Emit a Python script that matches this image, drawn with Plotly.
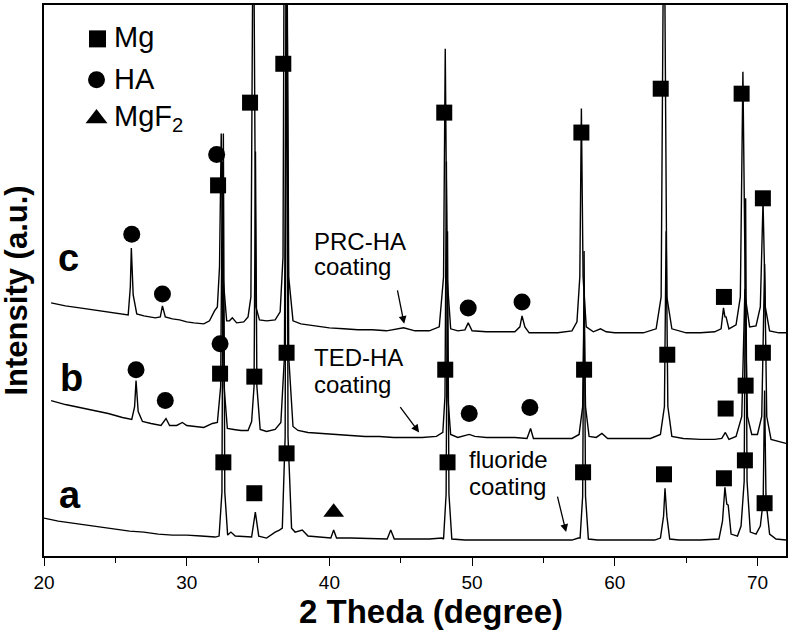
import plotly.graph_objects as go

# ---------------- data (2-theta in degrees, intensity in a.u.) ----------------
a_x = [20.0, 21.0, 22.0, 23.0, 24.0, 25.0, 26.0, 27.0, 28.0, 29.0, 30.0, 31.0, 32.0,
       32.27, 32.47, 32.57, 32.67, 32.87, 33.1, 33.4, 34.2, 34.55, 34.81, 35.05,
       35.6, 36.2, 36.5, 36.7, 36.9, 37.0, 37.1, 37.35, 37.6, 38.1, 38.5, 39.5,
       40.1, 40.3, 40.5, 41.5, 43.0, 44.05, 44.3, 44.55, 45.5, 47.0, 47.9,
       48.0, 48.18, 48.28, 48.38, 48.58, 49.5, 51.0, 52.5, 54.0, 55.5, 57.0, 57.45,
       57.57, 57.75, 57.85, 57.95, 58.15, 58.8, 60.0, 61.5, 62.8, 63.2, 63.42, 63.52,
       63.65, 63.85, 64.5, 66.0, 67.3, 67.55, 67.72, 67.85, 67.95, 68.15, 68.6, 68.85,
       69.07, 69.17, 69.27, 69.5, 69.9, 70.2, 70.4, 70.5, 70.6, 70.85, 71.3, 72.0]
a_y = [38, 35, 33, 31, 29, 27, 25, 24, 22, 21, 21, 20, 19,
       20, 64, 424, 64, 21, 24, 20, 19, 19, 44, 20,
       18, 24, 26, 28, 120, 700, 120, 28, 24, 26, 20, 19,
       18, 26, 18, 18, 17, 17, 26, 17, 17, 17, 18,
       17, 62, 326, 62, 17, 16, 16, 16, 16, 16, 16, 18,
       18, 60, 306, 60, 17, 16, 16, 16, 16, 18, 40, 68,
       40, 17, 16, 16, 17, 35, 69, 52, 51, 22, 20, 30,
       75, 359, 75, 24, 22, 30, 55, 166, 55, 22, 17, 16]

b_x = [20.5, 21.5, 22.5, 23.5, 24.5, 25.5, 26.15, 26.35, 26.45, 26.6, 26.9, 27.5,
       28.2, 28.55, 28.8, 29.3, 29.7, 30.0, 30.5, 31.2, 31.8, 32.15,
       32.38, 32.5, 32.62, 32.85, 33.3, 33.8, 34.3, 34.55, 34.72, 34.82, 34.92, 35.15,
       35.6, 36.2, 36.6, 36.85, 37.0, 37.15, 37.45, 37.8, 38.5, 39.5, 40.5, 41.5,
       42.5, 43.5, 44.5, 45.5, 46.5, 47.5, 47.95, 48.1, 48.2, 48.3, 48.5, 49.0,
       49.8, 50.2, 51.0, 52.0, 53.0, 53.85, 54.1, 54.3, 55.0, 56.0, 57.0, 57.5,
       57.75, 57.85, 57.95, 58.2, 58.7, 59.1, 59.5, 60.5, 61.5, 62.5, 63.2, 63.48,
       63.6, 63.72, 64.0, 64.8, 66.0, 67.0, 67.5, 67.75, 68.0, 68.5, 68.9, 69.12,
       69.3, 69.6, 70.0, 70.3, 70.5, 70.65, 70.95, 71.5, 72.0]
b_y = [156, 152, 149, 146, 143, 139, 137, 150, 176, 145, 135, 133,
       131, 138, 131, 131, 134, 131, 130, 129, 133, 134,
       170, 396, 170, 128, 127, 126, 126, 135, 170, 406, 170, 127,
       125, 127, 134, 200, 700, 200, 130, 126, 124, 123, 122, 121,
       120, 120, 119, 119, 119, 120, 124, 160, 396, 160, 122, 119,
       122, 120, 119, 119, 119, 118, 128, 118, 118, 118, 118, 122,
       150, 246, 150, 120, 119, 123, 118, 118, 118, 118, 122, 150,
       326, 150, 120, 118, 117, 117, 118, 124, 117, 120, 140, 268,
       140, 122, 122, 140, 293, 140, 117, 115, 113]

c_x = [20.5, 21.5, 22.5, 23.5, 24.5, 25.5, 25.9, 26.05, 26.12, 26.25, 26.5, 27.0,
       27.8, 28.15, 28.3, 28.5, 29.0, 29.5, 30.0, 30.5, 31.2, 31.6, 31.95, 32.15,
       32.3, 32.42, 32.55, 32.8, 33.0, 33.2, 33.5, 34.0, 34.3, 34.5, 34.67, 34.85,
       35.1, 35.6, 36.2, 36.55, 36.75, 36.85, 37.0, 37.15, 37.45, 38.0, 39.0, 40.0,
       41.0, 42.0, 43.0, 44.0, 45.2, 46.0, 47.0, 47.7, 48.0, 48.12, 48.25, 48.5,
       49.0, 49.5, 49.73, 50.0, 51.0, 52.0, 53.0, 53.35, 53.5, 53.7, 54.0, 55.0,
       56.0, 57.0, 57.35, 57.55, 57.66, 57.78, 58.0, 58.5, 59.0, 59.4, 60.0, 61.0,
       62.0, 62.9, 63.25, 63.45, 63.65, 64.0, 65.0, 66.0, 67.0, 67.45, 67.62, 67.72,
       67.8, 68.0, 68.5, 68.8, 68.98, 69.15, 69.45, 69.9, 70.2, 70.39, 70.55, 70.85,
       71.5, 72.0]
c_y = [254, 251, 249, 247, 245, 243, 242, 270, 309, 262, 243, 241,
       239, 240, 251, 240, 238, 237, 235, 234, 233, 236, 246, 250,
       290, 424, 280, 236, 236, 239, 234, 235, 240, 260, 700, 250,
       237, 236, 237, 245, 300, 700, 700, 280, 236, 233, 231, 229,
       228, 227, 227, 226, 229, 226, 226, 230, 280, 509, 280, 228,
       226, 227, 234, 226, 225, 225, 225, 230, 241, 230, 224, 224,
       224, 226, 235, 280, 449, 280, 230, 225, 228, 225, 224, 224,
       224, 228, 260, 700, 260, 228, 224, 224, 225, 228, 249, 240,
       240, 228, 232, 260, 486, 260, 230, 231, 250, 356, 250, 226,
       224, 224]

# phase markers
mg_x = [32.57, 34.74, 37.0, 48.28, 57.78, 63.45, 67.65, 69.12, 70.5,
        32.34, 34.74, 37.0, 48.12, 57.85, 63.68, 67.77, 69.17, 70.38,
        32.2, 34.44, 36.77, 48.05, 57.66, 63.22, 67.65, 68.89, 70.38]
mg_y = [94, 63, 103, 94, 84, 82, 78, 96, 53,
        183, 180, 204, 187, 187, 202, 148, 171, 204,
        372, 455, 494, 445, 425, 469, 260, 464, 359]
ha_x = [26.45, 28.5, 32.34, 49.8, 54.05,
        26.15, 28.3, 32.1, 49.73, 53.5]
ha_y = [187, 156, 213, 143, 149,
        323, 263, 403, 249, 255]
mgf2_x = [40.3]
mgf2_y = [44]

tick_vals = [20, 30, 40, 50, 60, 70]
tick_text = ["20", "30", "40", "50", "60", "70"]

# ---------------- figure ----------------
FONT = "Arial, Liberation Sans, Helvetica, sans-serif"
fig = go.Figure()
for xs, ys in [(a_x, a_y), (b_x, b_y), (c_x, c_y)]:
    fig.add_trace(go.Scatter(x=xs, y=ys, mode="lines",
                             line=dict(color="black", width=1.4),
                             hoverinfo="skip", showlegend=False))

fig.add_trace(go.Scatter(x=mg_x, y=mg_y, mode="markers", showlegend=False,
                         marker=dict(symbol="square", size=16, color="black")))
fig.add_trace(go.Scatter(x=ha_x, y=ha_y, mode="markers", showlegend=False,
                         marker=dict(symbol="circle", size=17, color="black")))
fig.add_trace(go.Scatter(x=mgf2_x, y=mgf2_y, mode="markers", showlegend=False,
                         marker=dict(symbol="triangle-up", size=18, color="black")))

# hand-drawn style legend (top-left)
fig.add_trace(go.Scatter(x=[23.75], y=[519], mode="markers", showlegend=False,
                         marker=dict(symbol="square", size=17, color="black")))
fig.add_trace(go.Scatter(x=[23.68], y=[478], mode="markers", showlegend=False,
                         marker=dict(symbol="circle", size=17, color="black")))
fig.add_trace(go.Scatter(x=[23.68], y=[439], mode="markers", showlegend=False,
                         marker=dict(symbol="triangle-up", size=19, color="black")))

ann = []
def txt(x, y, s, size, bold=False, xref="x", yref="y", xanchor="left", angle=0):
    ann.append(dict(x=x, y=y, xref=xref, yref=yref, text=("<b>%s</b>" % s) if bold else s,
                    showarrow=False, xanchor=xanchor, yanchor="middle", textangle=angle,
                    font=dict(family=FONT, size=size, color="black")))

txt(24.8, 521, "Mg", 29)
txt(24.8, 479, "HA", 29)
txt(24.8, 440, "MgF<sub>2</sub>", 29)

txt(20.85, 299, "c", 38, bold=True)
txt(20.95, 179, "b", 38, bold=True)
txt(20.9, 61, "a", 38, bold=True)

txt(38.8, 316, "PRC-HA", 24)
txt(38.8, 291, "coating", 24)
txt(38.75, 199, "TED-HA", 24)
txt(38.75, 172, "coating", 24)
txt(49.66, 97, "fluoride", 24)
txt(49.66, 70, "coating", 24)

txt(-0.037, 0.481, "Intensity (a.u.)", 31, bold=True, xref="paper", yref="paper",
    xanchor="center", angle=-90)
txt(0.521, -0.101, "2 Theda (degree)", 33, bold=True, xref="paper", yref="paper",
    xanchor="center")

for (tx, ty, hx, hy) in [(44.75, 268, 45.24, 233), (44.89, 151, 46.29, 124),
                         (55.96, 61, 56.59, 24)]:
    ann.append(dict(x=hx, y=hy, ax=tx, ay=ty, xref="x", yref="y", axref="x", ayref="y",
                    showarrow=True, arrowhead=2, arrowsize=1.2, arrowwidth=1.3,
                    arrowcolor="black", text=""))

fig.update_layout(
    width=791, height=632,
    margin=dict(l=44, r=3, t=3, b=76),
    paper_bgcolor="white", plot_bgcolor="white",
    annotations=ann,
    font=dict(family=FONT, color="black"),
    xaxis=dict(range=[20, 72], tickvals=tick_vals, ticktext=tick_text,
               ticks="outside", ticklen=8, tickwidth=1.4, tickcolor="black",
               minor=dict(dtick=5, tick0=20, ticks="outside", ticklen=5,
                          tickwidth=1.4, tickcolor="black"),
               showline=True, linecolor="black", linewidth=1.6, mirror=True,
               showgrid=False, zeroline=False,
               tickfont=dict(family=FONT, size=19, color="black")),
    yaxis=dict(range=[0, 553], showticklabels=False, ticks="",
               showline=True, linecolor="black", linewidth=1.6, mirror=True,
               showgrid=False, zeroline=False),
)

fig.write_html("out.html", config={"displayModeBar": False},
               post_script="document.body.style.margin='0';document.body.style.overflow='hidden';")
